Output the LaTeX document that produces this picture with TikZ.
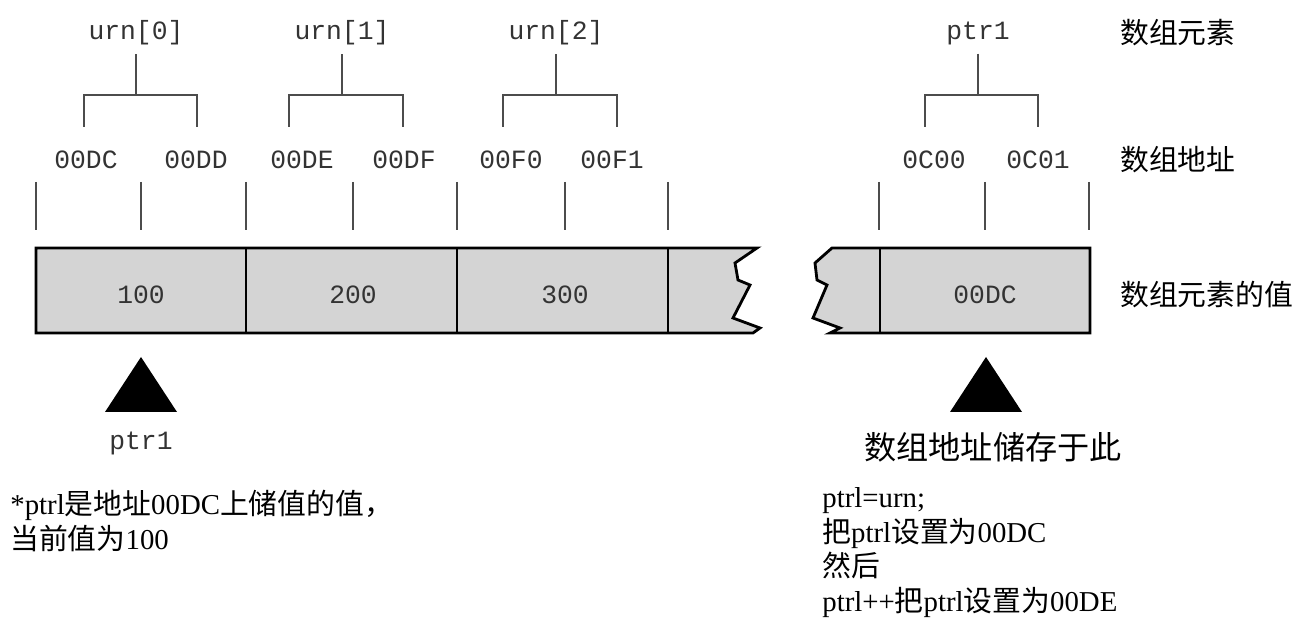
\documentclass[tikz,border=0pt]{standalone}
\usepackage{fontspec}
\setmainfont{Liberation Serif}
\setmonofont{Liberation Mono}
\newfontfamily\cjk{Noto Sans CJK SC}
\newcommand{\zh}[1]{{\cjk #1}}
\begin{document}
\begin{tikzpicture}[x=0.02cm, y=-0.02cm,
		addr/.style={font=\ttfamily\fontsize{15}{15}\selectfont, text=black!80, inner sep=0pt},
		lab/.style={font=\cjk\fontsize{16.4}{16.4}\selectfont, anchor=west, inner sep=0pt},
		tick/.style={line width=0.8pt, black!70},
		brk/.style={line width=0.8pt, black!70},
		cellbox/.style={fill=black!17, draw=black, line width=1.6pt, line join=miter},
		note/.style={font=\fontsize{16.4}{19.8}\selectfont, anchor=north west, inner sep=0pt, align=left}]
	\useasboundingbox (0,0) rectangle (1302,621);
	% 内存条：左段与右段，中间断开
	\draw[cellbox] (36,248) -- (757,248) -- (735,263) -- (738,280) -- (750,285) -- (733,318)
		-- (760,328) -- (753,333) -- (36,333) -- cycle;
	\draw[cellbox] (832,248) -- (1090,248) -- (1090,333) -- (830,333) -- (840,328) -- (813,318)
		-- (827,285) -- (817,280) -- (815,263) -- cycle;
	\foreach \x in {246,457,668,880}{
		\draw[line width=1.6pt] (\x,248) -- (\x,333);
	}
	% 地址刻度
	\foreach \x in {36,141,246,353,457,565,668,879,985,1089}{
		\draw[tick] (\x,182) -- (\x,230);
	}
	% 元素的值
	\foreach \x/\v [count=\i] in {141/100,353/200,565/300,985/00DC}{
		\node[addr] (V\i) at (\x,295) {\v};
	}
	% 地址
	\foreach \x/\t [count=\i] in {86/00DC,196/00DD,302/00DE,404/00DF,511/00F0,612/00F1,934/0C00,1038/0C01}{
		\node[addr] (A\i) at (\x,160) {\t};
	}
	% 数组元素与括号
	\foreach \m/\l/\r/\t [count=\i] in {136/84/197/urn[0],342/289/403/urn[1],556/503/617/urn[2],978/925/1038/ptr1}{
		\node[addr] (E\i) at (\m,33) {\t};
		\draw[brk, shorten <=5pt] (E\i.south) -- (\m,95);
		\draw[brk] (\l,127) -- (\l,95) -- (\r,95) -- (\r,127);
	}
	% 右侧说明
	\node[lab] (L1) at (1120,33) {数组元素};
	\node[lab] (L2) at (1120,160) {数组地址};
	\node[lab] (L3) at (1120,295) {数组元素的值};
	% 指针三角形
	\fill (141,357) -- (177,412) -- (105,412) -- cycle;
	\fill (986,357) -- (1022,412) -- (950,412) -- cycle;
	\node[addr] (P1) at (141,443) {ptr1};
	\node[font=\cjk\fontsize{18.3}{18.3}\selectfont, inner sep=0pt] (P2) at (993,447) {数组地址储存于此};
	% 注释文字
	\node[note] (N1) at (10,490) {*ptrl\zh{是地址}00DC\zh{上储值的值，}\\\zh{当前值为}100};
	\node[note] (N2) at (822,487) {ptrl=urn;\\\zh{把}ptrl\zh{设置为}00DC\\\zh{然后}\\ptrl++\zh{把}ptrl\zh{设置为}00DE};
\end{tikzpicture}
\end{document}
